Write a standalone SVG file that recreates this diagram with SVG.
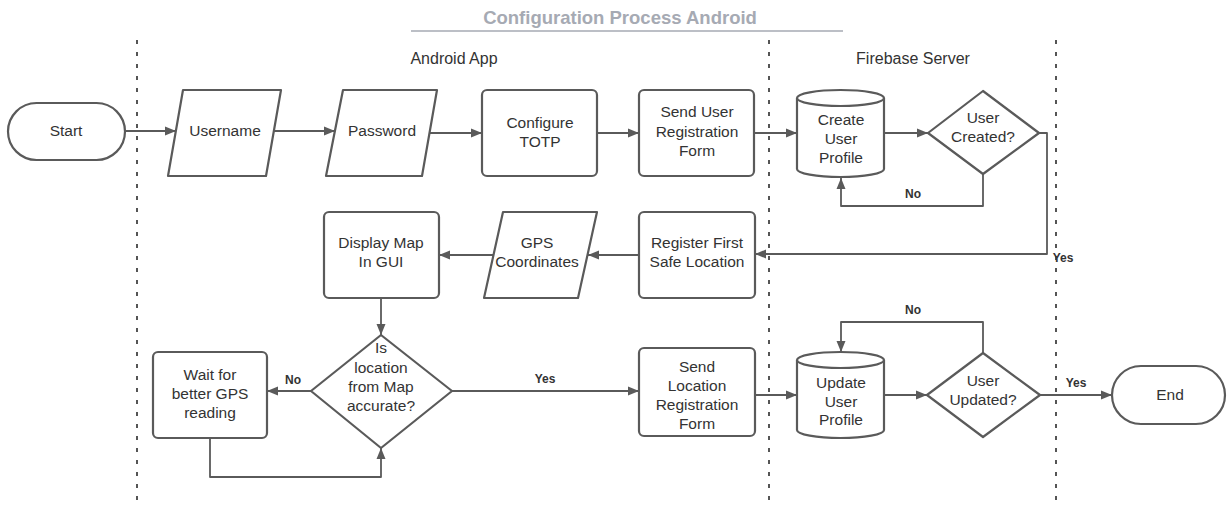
<svg xmlns="http://www.w3.org/2000/svg" width="1227" height="505" viewBox="0 0 1227 505">
  <style>
    .shape { fill: #ffffff; stroke: #5a5a5a; stroke-width: 2.2; stroke-linejoin: round; }
    .lbl { font-family: "Liberation Sans", Arial, sans-serif; font-size: 15.5px; fill: #333333; text-anchor: middle; }
    .tag { font-family: "Liberation Sans", Arial, sans-serif; font-size: 12px; font-weight: bold; fill: #333333; text-anchor: middle; }
    .lane { font-family: "Liberation Sans", Arial, sans-serif; font-size: 16px; fill: #333333; text-anchor: middle; }
    .title { font-family: "Liberation Sans", Arial, sans-serif; font-size: 18.5px; font-weight: bold; fill: #a6aab3; text-anchor: middle; }
    .divider { stroke: #555555; stroke-width: 2; stroke-dasharray: 4 8; fill: none; }
    .conn { fill: none; stroke: #5a5a5a; stroke-width: 1.8; stroke-linejoin: round; marker-end: url(#arrow); }
  </style>
  <defs>
    <marker id="arrow" markerUnits="userSpaceOnUse" markerWidth="12" markerHeight="10" refX="11" refY="5" orient="auto">
      <path d="M0,0.5 L11,5 L0,9.5 Z" fill="#5a5a5a"/>
    </marker>
  </defs>

  <rect width="1227" height="505" fill="#ffffff"/>

  <!-- title and swimlanes -->
  <g id="header">
    <text class="title" x="620" y="24">Configuration Process Android</text>
    <line x1="411" y1="31" x2="843" y2="31" stroke="#a6aab3" stroke-width="1.3"/>
    <text class="lane" x="454" y="64">Android App</text>
    <text class="lane" x="913" y="64">Firebase Server</text>
  </g>
  <g id="lanes">
    <line class="divider" x1="137" y1="40" x2="137" y2="505"/>
    <line class="divider" x1="769" y1="40" x2="769" y2="505"/>
    <line class="divider" x1="1056" y1="40" x2="1056" y2="505"/>
  </g>

  <!-- connectors -->
  <g id="connectors">
    <path class="conn" d="M125,131 H176"/>
    <path class="conn" d="M274,131 H335"/>
    <path class="conn" d="M430,133 H482"/>
    <path class="conn" d="M597,133 H639"/>
    <path class="conn" d="M754,133 H797"/>
    <path class="conn" d="M884,133 H928"/>
    <path class="conn" d="M983,174 V206 H841 V178"/>
    <path class="conn" d="M1039,133 H1047 V254 H755"/>
    <path class="conn" d="M639,255 H588"/>
    <path class="conn" d="M494,255 H439"/>
    <path class="conn" d="M381,298 V335"/>
    <path class="conn" d="M311,391 H267"/>
    <path class="conn" d="M210,438 V477 H381 V448"/>
    <path class="conn" d="M452,391 H639"/>
    <path class="conn" d="M755,395 H797"/>
    <path class="conn" d="M884,395 H927"/>
    <path class="conn" d="M983,353 V322 H841 V352"/>
    <path class="conn" d="M1040,395 H1112"/>
    <text class="tag" x="913" y="198">No</text>
    <text class="tag" x="1063" y="262">Yes</text>
    <text class="tag" x="293" y="384">No</text>
    <text class="tag" x="545" y="383">Yes</text>
    <text class="tag" x="913" y="314">No</text>
    <text class="tag" x="1076" y="387">Yes</text>
  </g>

  <!-- row 1 -->
  <g id="start">
    <rect class="shape" x="8" y="103" width="117" height="57" rx="28.5"/>
    <text class="lbl" x="66" y="136">Start</text>
  </g>
  <g id="username">
    <polygon class="shape" points="183,90 281,90 266,176 168,176"/>
    <text class="lbl" x="225" y="136">Username</text>
  </g>
  <g id="password">
    <polygon class="shape" points="343,90 437,90 422,176 326,176"/>
    <text class="lbl" x="382" y="136">Password</text>
  </g>
  <g id="configure-totp">
    <rect class="shape" x="482" y="90" width="115" height="86" rx="5"/>
    <text class="lbl" x="540" y="128">Configure</text>
    <text class="lbl" x="540" y="147">TOTP</text>
  </g>
  <g id="send-user-registration">
    <rect class="shape" x="639" y="90" width="115" height="86" rx="5"/>
    <text class="lbl" x="697" y="117">Send User</text>
    <text class="lbl" x="697" y="137">Registration</text>
    <text class="lbl" x="697" y="156">Form</text>
  </g>
  <g id="create-user-profile">
    <path class="shape" d="M797,98 A43.5,8 0 0 1 884,98 V169 A43.5,8 0 0 1 797,169 Z"/>
    <path class="shape" d="M797,98 A43.5,8 0 0 0 884,98" fill="none"/>
    <text class="lbl" x="841" y="125">Create</text>
    <text class="lbl" x="841" y="144">User</text>
    <text class="lbl" x="841" y="163">Profile</text>
  </g>
  <g id="user-created">
    <polygon class="shape" points="983,91 1039,133 983,174 928,133"/>
    <text class="lbl" x="983" y="123">User</text>
    <text class="lbl" x="983" y="142">Created?</text>
  </g>

  <!-- row 2 -->
  <g id="register-safe-location">
    <rect class="shape" x="639" y="212" width="116" height="86" rx="5"/>
    <text class="lbl" x="697" y="248">Register First</text>
    <text class="lbl" x="697" y="267">Safe Location</text>
  </g>
  <g id="gps-coordinates">
    <polygon class="shape" points="503,212 597,212 578,298 484,298"/>
    <text class="lbl" x="537" y="248">GPS</text>
    <text class="lbl" x="537" y="267">Coordinates</text>
  </g>
  <g id="display-map">
    <rect class="shape" x="324" y="212" width="115" height="86" rx="5"/>
    <text class="lbl" x="381" y="248">Display Map</text>
    <text class="lbl" x="381" y="267">In GUI</text>
  </g>

  <!-- row 3 -->
  <g id="location-accurate">
    <polygon class="shape" points="381,335 452,391 381,448 311,391"/>
    <text class="lbl" x="381" y="353">Is</text>
    <text class="lbl" x="381" y="373">location</text>
    <text class="lbl" x="381" y="392">from Map</text>
    <text class="lbl" x="381" y="411">accurate?</text>
  </g>
  <g id="wait-gps">
    <rect class="shape" x="153" y="352" width="114" height="86" rx="5"/>
    <text class="lbl" x="210" y="380">Wait for</text>
    <text class="lbl" x="210" y="399">better GPS</text>
    <text class="lbl" x="210" y="418">reading</text>
  </g>
  <g id="send-location-registration">
    <rect class="shape" x="639" y="348" width="116" height="88" rx="5"/>
    <text class="lbl" x="697" y="372">Send</text>
    <text class="lbl" x="697" y="391">Location</text>
    <text class="lbl" x="697" y="410">Registration</text>
    <text class="lbl" x="697" y="429">Form</text>
  </g>
  <g id="update-user-profile">
    <path class="shape" d="M797,360 A43.5,8 0 0 1 884,360 V430 A43.5,8 0 0 1 797,430 Z"/>
    <path class="shape" d="M797,360 A43.5,8 0 0 0 884,360" fill="none"/>
    <text class="lbl" x="841" y="388">Update</text>
    <text class="lbl" x="841" y="407">User</text>
    <text class="lbl" x="841" y="425">Profile</text>
  </g>
  <g id="user-updated">
    <polygon class="shape" points="983,353 1040,395 983,437 927,395"/>
    <text class="lbl" x="983" y="386">User</text>
    <text class="lbl" x="983" y="405">Updated?</text>
  </g>
  <g id="end">
    <rect class="shape" x="1112" y="366" width="113" height="58" rx="29"/>
    <text class="lbl" x="1170" y="400">End</text>
  </g>
</svg>
